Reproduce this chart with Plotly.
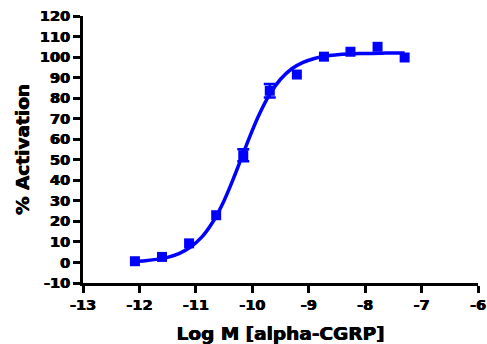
import plotly.graph_objects as go

# Measured data (log molar concentration, % activation)
log_conc = [-12.08, -11.60, -11.12, -10.64, -10.16, -9.69, -9.21, -8.73, -8.26, -7.78, -7.30]
activation = [0.6, 2.7, 9.3, 23.0, 52.2, 83.6, 91.5, 100.2, 102.6, 105.0, 99.8]
sem = [None, None, None, None, 2.9, 3.3, None, None, None, None, None]

# Fitted curve
curve_x = [-12.1, -11.9, -11.7, -11.5, -11.3, -11.1, -10.9, -10.7, -10.5, -10.3,
           -10.1, -9.9, -9.7, -9.5, -9.3, -9.1, -8.9, -8.7, -8.5, -8.3,
           -8.1, -7.9, -7.7, -7.5, -7.3]
curve_y = [0.5, 0.8, 1.5, 2.5, 4.3, 7.4, 12.2, 19.7, 30.1, 43.2,
           57.4, 70.7, 81.5, 89.2, 94.3, 97.4, 99.3, 100.5, 101.1, 101.5,
           101.7, 101.8, 101.9, 102.0, 102.0]

x_ticks = [-13, -12, -11, -10, -9, -8, -7, -6]
y_ticks = [-10, 0, 10, 20, 30, 40, 50, 60, 70, 80, 90, 100, 110, 120]

BLUE = "#0000FF"
FONT = "DejaVu Sans"
HEAVY = "0.5px 0 0 black, -0.3px 0 0 black"

err_idx = [i for i, e in enumerate(sem) if e is not None]

fig = go.Figure()
fig.add_trace(go.Scatter(
    x=[log_conc[i] for i in err_idx], y=[activation[i] for i in err_idx],
    mode="markers", marker=dict(size=1, color=BLUE, opacity=0),
    error_y=dict(type="data", array=[sem[i] for i in err_idx], visible=True,
                 color=BLUE, thickness=2.5, width=6),
    hoverinfo="skip", showlegend=False,
))
fig.add_trace(go.Scatter(
    x=curve_x, y=curve_y, mode="lines",
    line=dict(color=BLUE, width=3.5, shape="spline", smoothing=1.0),
    hoverinfo="skip", showlegend=False,
))
fig.add_trace(go.Scatter(
    x=log_conc, y=activation, mode="markers",
    marker=dict(symbol="square", size=10, color=BLUE, line=dict(width=0)),
    showlegend=False,
))

axis_common = dict(
    showline=True, linewidth=3, linecolor="black",
    ticks="outside", ticklen=7, tickwidth=2.5, tickcolor="black",
    showgrid=False, zeroline=False, automargin=False,
    tickfont=dict(family=FONT, size=14.5, color="black", weight="bold", shadow=HEAVY),
)

title_font = dict(family=FONT, size=18.5, color="black", weight="bold", shadow=HEAVY)

fig.update_layout(
    width=487, height=344,
    margin=dict(l=83, r=9, t=16, b=61),
    plot_bgcolor="white", paper_bgcolor="white",
    xaxis=dict(
        range=[-13, -6], tickvals=x_ticks, ticktext=[str(v) for v in x_ticks],
        title=dict(text="Log M [alpha-CGRP]", standoff=15, font=title_font),
        **axis_common,
    ),
    yaxis=dict(
        range=[-10, 120], tickvals=y_ticks, ticktext=[str(v) for v in y_ticks],
        title=dict(text="% Activation", standoff=6, font=title_font),
        **axis_common,
    ),
)

fig.write_html("out.html")
